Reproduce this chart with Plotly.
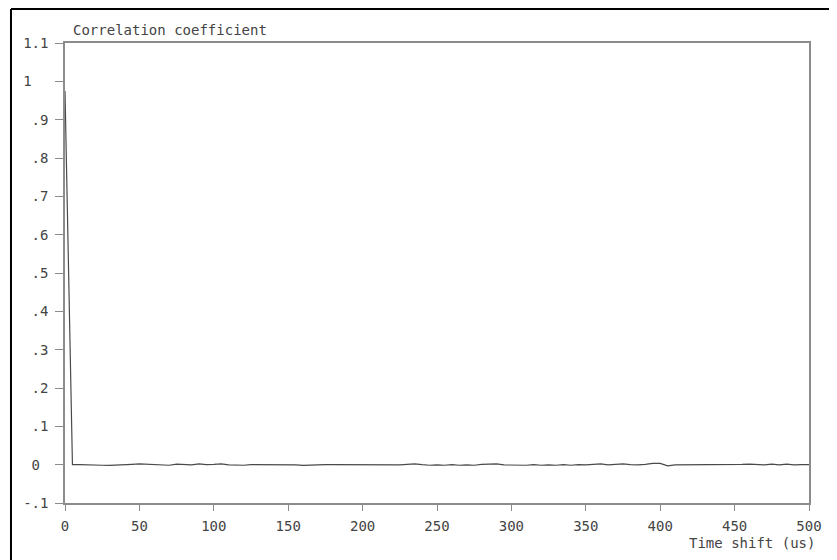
import plotly.graph_objects as go

time_shift_us = [0, 5, 10, 15, 20, 25, 30, 35, 40, 45, 50, 55, 60, 65, 70, 75, 80, 85, 90, 95,
                 100, 105, 110, 115, 120, 125, 130, 135, 140, 145, 150, 155, 160, 165, 170, 175, 180, 185, 190, 195,
                 200, 205, 210, 215, 220, 225, 230, 235, 240, 245, 250, 255, 260, 265, 270, 275, 280, 285, 290, 295,
                 300, 305, 310, 315, 320, 325, 330, 335, 340, 345, 350, 355, 360, 365, 370, 375, 380, 385, 390, 395,
                 400, 405, 410, 415, 420, 425, 430, 435, 440, 445, 450, 455, 460, 465, 470, 475, 480, 485, 490, 495, 500]

correlation = [0.975, 0.0, 0.0, 0.0, 0.0, -0.0015, -0.002, -0.0015, -0.0007, 0.0007,
               0.002, 0.0007, -0.0007, -0.002, -0.0015, 0.0015, 0.0, -0.0007, 0.002, 0.0,
               0.0007, 0.002, -0.0007, -0.0015, -0.0015, 0.0, 0.0, 0.0004, 0.0, 0.0,
               0.0, -0.0007, -0.002, -0.0007, 0.0, 0.0, 0.0, 0.0, 0.0, -0.0007,
               -0.0015, -0.0007, -0.0015, -0.0004, 0.0, -0.0007, 0.0007, 0.002, 0.0, -0.0015,
               -0.0007, -0.0015, 0.0, -0.0015, -0.0007, -0.0015, 0.0007, 0.002, 0.002, -0.0007,
               -0.0015, -0.0007, -0.0015, 0.0, -0.0015, -0.0007, -0.0015, 0.0, -0.0015, 0.0,
               -0.0007, 0.0007, 0.002, -0.0007, 0.0, 0.002, 0.0, -0.0007, 0.0007, 0.0035,
               0.0035, -0.003, -0.0007, -0.0007, 0.0, -0.0007, 0.0, -0.0007, 0.0, 0.0007,
               0.0, 0.0007, 0.0015, 0.0, -0.0007, 0.0015, -0.0007, 0.0015, -0.0007, 0.0, 0.0]

x_tick_vals = [0, 50, 100, 150, 200, 250, 300, 350, 400, 450, 500]
x_tick_text = ["0", "50", "100", "150", "200", "250", "300", "350", "400", "450", "500"]
y_tick_vals = [-0.1, 0, 0.1, 0.2, 0.3, 0.4, 0.5, 0.6, 0.7, 0.8, 0.9, 1.0, 1.1]
y_tick_text = ["-.1", "0\u00a0", ".1", ".2", ".3", ".4", ".5", ".6", ".7", ".8", ".9", "1\u00a0\u00a0", "1.1"]

FONT = "DejaVu Sans Mono"
TXT = "#444444"
AX = "#8c8c8c"

fig = go.Figure()
fig.add_trace(go.Scatter(x=time_shift_us, y=correlation, mode="lines",
                         line=dict(color="#4a4a4a", width=1.2), showlegend=False,
                         cliponaxis=True))

axis_common = dict(showgrid=False, zeroline=False, showline=True, linecolor=AX, linewidth=1.5,
                   mirror=True, ticks="outside", tickcolor=AX, tickwidth=1.3,
                   tickfont=dict(family=FONT, size=14, color=TXT))

fig.update_xaxes(range=[0, 500], tickmode="array", tickvals=x_tick_vals, ticktext=x_tick_text,
                 ticklen=6, ticklabelstandoff=3, **axis_common)
fig.update_yaxes(range=[-0.1, 1.1], tickmode="array", tickvals=y_tick_vals, ticktext=y_tick_text,
                 ticklen=8, ticklabelstandoff=4, **axis_common)

fig.update_layout(
    width=829, height=552,
    margin=dict(l=57, r=28, t=35, b=57),
    plot_bgcolor="white", paper_bgcolor="white",
    annotations=[
        dict(text="Correlation coefficient", xref="paper", yref="paper",
             x=0.008, y=1.028, xanchor="left", yanchor="middle", showarrow=False,
             font=dict(family=FONT, size=14, color=TXT)),
        dict(text="Time shift (us)", xref="paper", yref="paper",
             x=1.0108, y=-0.087, xanchor="right", yanchor="middle", showarrow=False,
             font=dict(family=FONT, size=14, color=TXT)),
    ],
    shapes=[
        dict(type="line", xref="paper", yref="paper", x0=-0.0726, x1=1.06, y0=1.0739, y1=1.0739,
             line=dict(color="black", width=2)),
        dict(type="line", xref="paper", yref="paper", x0=-0.0726, x1=-0.0726, y0=1.0739, y1=-0.16,
             line=dict(color="black", width=2)),
    ],
)

fig.write_html("out.html")
